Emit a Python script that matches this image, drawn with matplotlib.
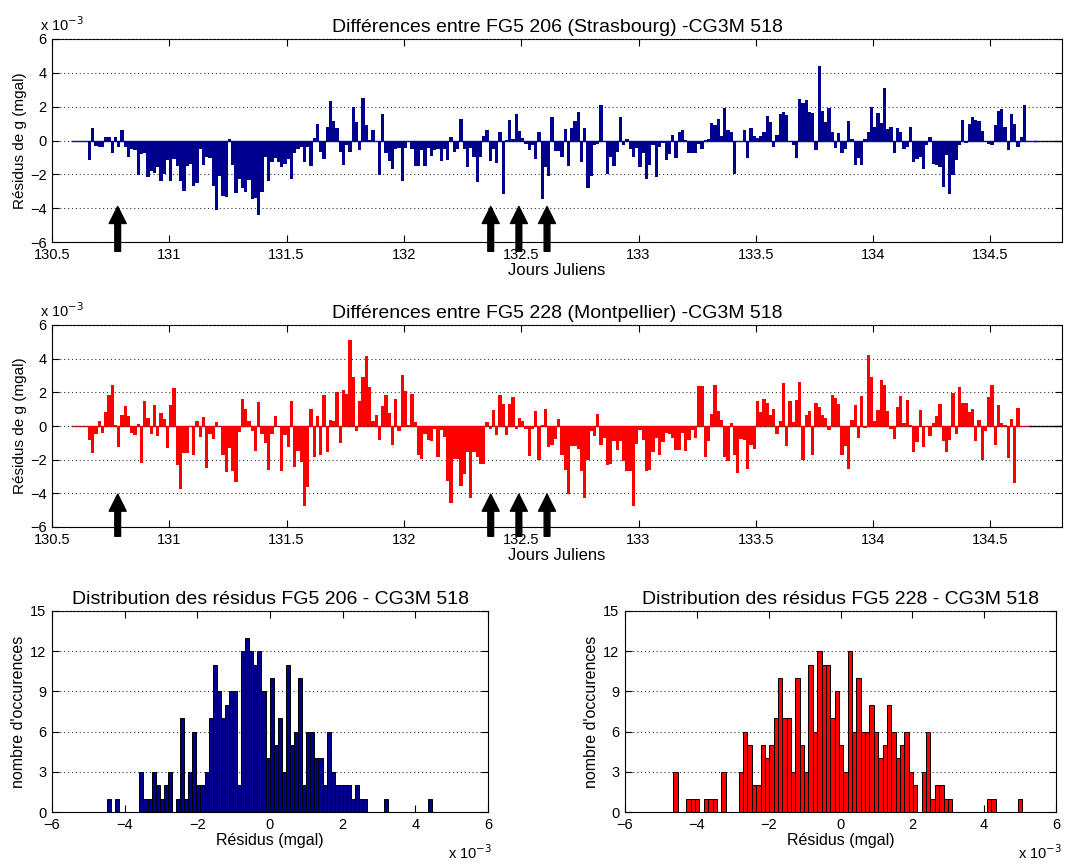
import numpy as np
import matplotlib
matplotlib.use("Agg")
import matplotlib.pyplot as plt

plt.rcParams['font.family'] = ['Liberation Sans', 'DejaVu Sans']

# Sampling of the residual series (Julian days, 20 min step)
T0 = 130.59
DT = 1.0 / 72.0

# Residuals FG5 206 (Strasbourg) - CG3M 518, units of 1e-3 mgal
res_206 = [
    0, 0, 0, 0, 0,
    -1.14, 0.76, -0.34, -0.38, -0.38, 0.23, 0.20, -0.72, 0.20, -0.38,
    0.65, -0.38, -0.95, -0.53, -0.57, -2.06, -0.80, -0.76, -2.13, -1.80,
    -1.90, -1.56, -2.42, -2.00, -1.14, -2.42, -1.10, -1.52, -2.38, -2.97,
    -1.52, -1.39, -2.67, -2.51, -0.53, -1.45, -1.00, -1.05, -2.67, -4.10,
    -2.10, -3.30, -3.33, 0.10, -1.43, -3.09, -2.25, -2.82, -3.05, -2.34,
    -3.43, -3.39, -4.38, -3.05, -0.95, -2.38, -1.26, -1.05, -1.30, -1.56,
    -1.37, -1.09, -2.29, -0.76, -0.48, -0.38, -1.28, -0.38, -1.49,
    0.15, 0.99, -0.67, -1.10, 0.82, 2.32, 1.14, 0.76, -0.70, -1.47,
    -0.29, -0.67, 1.96, 1.09, -0.57, 2.51, 0.90, 0.04, 0.61, -0.04,
    -2.06, 1.56, -0.72, -1.20, -1.71, -0.48, -0.42, -2.42, -0.42, -0.06,
    -0.48, -1.49, -1.52, -0.57, -1.49, -0.42, -0.91, -0.57, -0.48, -1.20,
    -0.48, -1.14, 0.23, -0.67, -0.53, 1.30, -0.48, -1.58, -0.44, -0.95,
    -2.48, -0.95, 0.29, 0.61, -1.24, -0.53, -1.33, 0.48, -3.14, 0.04,
    1.24, 0.06, 1.56, 0.57, 0.15, -0.19, -0.57, -0.29, -1.10, 0.48,
    -3.43, -1.56, -2.10, 1.37, -0.63, -0.63, -0.95, 0.70,
    -1.49, 0.76, 1.14, 1.71, -1.30, 0.76, -2.82, -2.10, -0.29, -0.23,
    2.10, -0.10, -1.96, -0.99, -1.52, -0.70, 1.37, -0.29, 0.10, -0.48,
    -0.95, -0.42, -1.58, -0.72, -2.25, -1.43, -0.29, -2.13, -0.38, -0.15,
    -1.14, -0.80, 0.34, -1.05, 0.48, 0.63, 0.04, -0.76, -0.76, -0.76,
    -0.19, -0.51, 0.04, 0.06, 1.01, 0.90, 1.30, 0.25, 1.90, 0.61,
    0.48, -1.96, 0.00, 0.00, 0.63, -1.05, 0.76, 0.29, 0.15, 0.27,
    0.53, 1.43, 1.09, -0.38, 0.34, 1.56, 1.71, 1.52, -0.10, -0.29,
    -1.05, 2.44, 2.23, 2.38, 1.71,
    1.62, -0.57, 4.38, 1.75, 1.09, 1.94, 0.53, -0.44, 0.42, -0.72,
    -0.48, 1.18, 0.06, -1.43, -1.05, -1.43, 0.06, 0.48, 1.96, 0.82,
    1.62, 1.03, 3.10, 0.70, 0.82, -0.76, 0.72, 0.48, -0.51, -0.38,
    0.82, -1.30, -1.10, -0.99, -1.71, -0.29, 0.23, -1.41, -1.43, -1.56,
    -2.72, -0.86, -3.14, -2.06, -1.18, -0.25, 1.24, -0.15, 0.99, 1.41,
    1.24, 1.18, 0.57, -0.08, -0.19, -0.29, 0.91, 1.77, 1.85, 0.82,
    -0.57, 1.56, 0.99, -0.38, 0.19, 2.10,
    0, 0, 0,
]

# Residuals FG5 228 (Montpellier) - CG3M 518, units of 1e-3 mgal
res_228 = [
    0, 0, 0, 0, 0,
    -0.85, -1.60, -0.45, 0.32, -0.40, 0.83, 1.86, 2.45, 0.08, -1.25,
    0.67, 1.17, 0.57, -0.40, -0.51, 0.10, -2.19, 1.48, 0.49, -0.45,
    1.23, -0.61, 0.77, 0.43, -1.30, 1.23, 2.25, -2.33, -3.77, -1.60,
    -1.60, 0.00, -1.74, 0.32, -0.65, 0.53, -2.49, -0.45, -0.75, 0.24,
    0.00, -1.70, -2.73, -1.28, -2.69, -3.32, -0.36, 1.62, 0.99, 0.28,
    -0.30, -1.50, 1.42, -0.49, -1.00, -2.63, -0.45, 0.57, 0.00, -2.67,
    -0.55, -1.25, 1.48, -2.43, -1.48, -2.13, -4.74, -3.62,
    0.99, -1.84, 0.57, -1.70, 1.82, -1.54, 0.38, 0.28, 2.02, -1.00,
    2.11, 1.88, 5.12, 2.89, -0.32, 1.46, 2.91, 4.13, 2.33, 0.28,
    0.63, -0.81, 1.19, 1.82, 0.75, -1.10, 1.62, -0.32, 3.04, 2.06,
    0.08, 1.92, 0.24, -1.70, -1.94, -0.47, -0.85, -0.89, -0.20, -1.84,
    -0.26, -0.65, -3.28, -4.60, -1.94, -1.98, -3.56, -2.83, -1.54, -4.27,
    -1.54, -1.84, -2.23, -2.23, 0.24, -0.16, 0.93, -0.55, 1.86, 1.32,
    -0.55, 1.32, 1.72, -0.16, 0.47, 0.32, -0.16, -1.80, -0.16, 0.89,
    -2.00, 0.08, 0.99, -1.25, -1.15, -0.79,
    0.43, -1.74, -2.63, -4.01, -1.21, -1.21, -1.34, -2.69, -4.25, -2.04,
    -0.30, -0.59, 0.69, -1.15, -0.71, -2.29, -2.27, -0.91, -1.44, -0.91,
    -2.08, -2.67, -2.67, -4.74, -1.05, -0.22, -0.81, -2.67, -2.63, -1.54,
    -0.71, -1.74, -0.95, -0.40, -0.45, -0.69, -1.44, -1.44, -0.40, -1.50,
    -0.81, -0.22, -0.69, 2.37, 2.37, -1.84, -0.89, 0.69, 2.45, 0.87,
    0.34, -1.84, -2.09, 0.20, -1.74, -2.79, -0.79, -0.85, -2.53, -1.15,
    -1.38, 1.48, 0.83, 1.62, 1.36, 0.63, 0.99, -0.49, 0.28, 2.55,
    -1.19, 1.46, 0.24, 1.52, 2.61, -2.04,
    0.63, 0.87, -1.74, 1.36, 1.13, 0.67, 0.47, -0.22, 1.82, 1.68,
    1.32, -1.74, -1.21, -2.57, 0.38, 1.26, -0.71, 1.76, -0.12, 4.23,
    2.89, 0.28, 0.93, 2.75, 2.45, 0.89, -0.20, -0.79, 1.13, 1.76,
    0.20, 1.56, 0.04, -1.54, -0.95, 0.93, -1.25, 0.00, -0.61, 0.20,
    0.59, 1.32, -0.89, -1.54, -0.85, 1.96, -0.49, 2.31, 1.38, 1.38,
    0.83, 0.99, -0.89, 0.38, -2.00, -0.32, 1.72, 2.45, -1.11, 1.23,
    0.20, 0.04, -1.88, 0.43, -3.36, 1.07,
    0, 0, 0,
]

# Marked events (Julian days)
event_days = [130.78, 132.37, 132.49, 132.61]

# Histograms of the residuals (80 bins each)
hist_206_counts = [
    1, 0, 1, 0, 0, 0, 0, 0, 3, 1,
    1, 3, 2, 1, 2, 3, 0, 1, 7, 1,
    3, 6, 2, 2, 3, 7, 11, 9, 7, 8,
    9, 9, 2, 12, 13, 12, 11, 12, 9, 4,
    10, 5, 7, 3, 11, 5, 6, 10, 2, 6,
    6, 4, 4, 2, 6, 3, 2, 2, 2, 2,
    1, 2, 1, 1, 0, 0, 0, 0, 1, 0,
    0, 0, 0, 0, 0, 0, 0, 0, 0, 1,
]
hist_206_range = (-4.49, 4.47)

hist_228_counts = [
    3, 0, 0, 1, 1, 1, 0, 1, 1, 1,
    0, 3, 0, 0, 0, 3, 6, 5, 2, 2,
    5, 4, 5, 7, 10, 7, 7, 3, 10, 5,
    3, 11, 6, 12, 11, 11, 7, 9, 5, 3,
    12, 6, 10, 6, 6, 8, 6, 4, 5, 8,
    6, 4, 5, 6, 3, 2, 0, 3, 6, 1,
    2, 2, 1, 1, 0, 0, 0, 0, 0, 0,
    0, 0, 1, 1, 0, 0, 0, 0, 0, 1,
]
hist_228_range = (-4.654, 5.053)

NAVY = '#00008f'
RED = '#ff0000'
W, H = 1068, 864

fig = plt.figure(figsize=(W / 100, H / 100), dpi=100)


def rect(x0, y0, x1, y1):
    return [x0 / W, 1 - y1 / H, (x1 - x0) / W, (y1 - y0) / H]


def style_axes(ax):
    ax.tick_params(direction='in', top=True, right=True, length=5,
                   width=0.8, labelsize=10.5, pad=4)
    ax.yaxis.grid(True, linestyle=(0, (1, 2.5)), color='#333333', lw=0.8)
    ax.set_axisbelow(False)
    for s in ax.spines.values():
        s.set_linewidth(0.8)


def sci_label(x, y):
    fig.text(x / W, 1 - y / H, r'x 10$^{-3}$', fontsize=10.5,
             ha='left', va='baseline')


def series_panel(box, values, color, title, tip):
    ax = fig.add_axes(rect(*box))
    t = T0 + DT * np.arange(len(values))
    xmax = 134.805
    ax.hlines(0, t[-1], xmax, color='black', lw=1.0, zorder=2)
    ax.hlines(0, t[0] - DT / 2, t[-1] + DT / 2, color=color, lw=1.0, zorder=2)
    ax.bar(t, values, width=DT, color=color, linewidth=0, zorder=3)
    ax.set_xlim(130.5, xmax)
    ax.set_ylim(-6, 6)
    ax.set_xticks([130.5, 131, 131.5, 132, 132.5, 133, 133.5, 134, 134.5])
    ax.set_xticklabels(['130.5', '131', '131.5', '132', '132.5', '133',
                        '133.5', '134', '134.5'])
    ax.set_yticks([-6, -4, -2, 0, 2, 4, 6])
    style_axes(ax)
    ax.set_title(title, fontsize=14, pad=5)
    ax.set_xlabel('Jours Juliens', fontsize=12, labelpad=1)
    ax.set_ylabel('Résidus de g (mgal)', fontsize=11, labelpad=2)
    for d in event_days:
        ax.annotate('', xy=(d, tip), xytext=(d, -6.55),
                    arrowprops=dict(arrowstyle='simple,head_length=0.68,'
                                    'head_width=0.68,tail_width=0.23',
                                    color='black', mutation_scale=18,
                                    shrinkA=0, shrinkB=0),
                    annotation_clip=False, zorder=5)
    return ax


series_panel((52, 39, 1062, 242), res_206, NAVY,
             'Différences entre FG5 206 (Strasbourg) -CG3M 518', -3.9)
sci_label(40, 31)
series_panel((52, 325, 1062, 527), res_228, RED,
             'Différences entre FG5 228 (Montpellier) -CG3M 518', -4.05)
sci_label(40, 317)


def hist_panel(box, counts, rng, color, title):
    ax = fig.add_axes(rect(*box))
    edges = np.linspace(rng[0], rng[1], len(counts) + 1)
    centers = 0.5 * (edges[:-1] + edges[1:])
    ax.bar(centers, counts, width=edges[1] - edges[0], color=color,
           edgecolor='black', linewidth=0.7, zorder=3)
    ax.set_xlim(-6, 6)
    ax.set_ylim(0, 15)
    ax.set_xticks([-6, -4, -2, 0, 2, 4, 6])
    ax.set_yticks([0, 3, 6, 9, 12, 15])
    style_axes(ax)
    ax.set_title(title, fontsize=14, pad=5)
    ax.set_xlabel('Résidus (mgal)', fontsize=11.5, labelpad=1)
    ax.set_ylabel("nombre d'occurences", fontsize=11.5, labelpad=3)
    return ax


hist_panel((52, 611, 488, 812), hist_206_counts, hist_206_range, NAVY,
           'Distribution des résidus FG5 206 - CG3M 518')
sci_label(448, 859)
hist_panel((625, 611, 1056, 812), hist_228_counts, hist_228_range, RED,
           'Distribution des résidus FG5 228 - CG3M 518')
sci_label(1018, 859)

fig.savefig('out.png', dpi=100)
